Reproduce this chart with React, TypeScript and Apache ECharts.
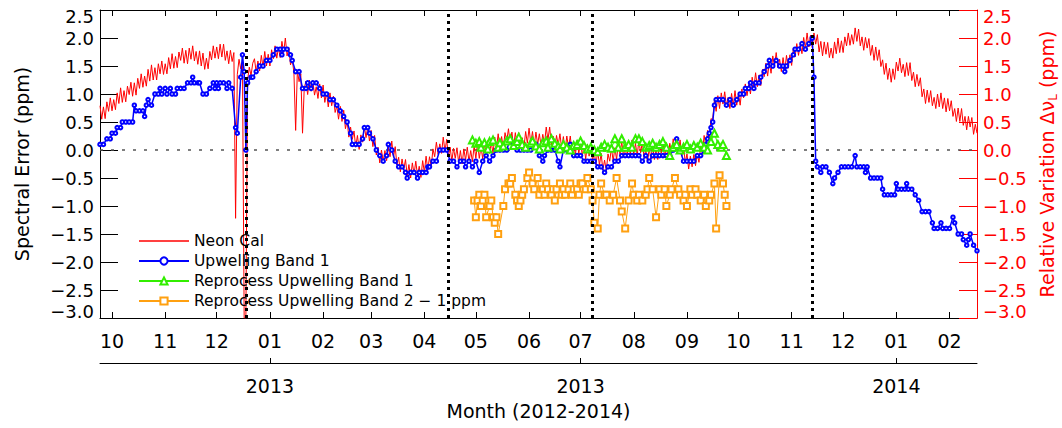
import { useEffect, useRef } from 'react';
import * as echarts from 'echarts';

const FONT = 'DejaVu Sans';
const DAY = 86400000;

// Time range of the plot and its tick positions
const startDate = '2012-09-24';
const endDate = '2014-02-17';
const monthTicks = [
  '2012-10-01', '2012-11-01', '2012-12-01', '2013-01-01', '2013-02-01', '2013-03-01',
  '2013-04-01', '2013-05-01', '2013-06-01', '2013-07-01', '2013-08-01', '2013-09-01',
  '2013-10-01', '2013-11-01', '2013-12-01', '2014-01-01', '2014-02-01',
];
const monthLabels = ['10', '11', '12', '01', '02', '03', '04', '05', '06', '07', '08', '09', '10', '11', '12', '01', '02'];
const yearTicks = ['2013-01-01', '2013-07-01', '2014-01-01'];
const yearLabels = ['2013', '2013', '2014'];
const eventDates = ['2012-12-18', '2013-04-15', '2013-07-08', '2013-11-13'];

// Neon Cal: one value per day from startDate (ppm)
const neonCalStepDays = 1;
const neonCal = [
  0.79, 0.55, 0.77, 0.56, 0.86, 0.69, 0.93, 0.70, 0.90, 0.72,
  1.02, 0.83, 1.11, 0.85, 1.06, 0.86, 1.14, 0.99, 1.21, 0.96,
  1.20, 0.98, 1.28, 1.10, 1.36, 1.12, 1.32, 1.14, 1.44, 1.23,
  1.52, 1.25, 1.47, 1.25, 1.54, 1.36, 1.59, 1.35, 1.54, 1.36,
  1.65, 1.45, 1.72, 1.46, 1.67, 1.47, 1.75, 1.60, 1.82, 1.55,
  1.78, 1.54, 1.82, 1.62, 1.86, 1.59, 1.76, 1.53, 1.77, 1.50,
  1.73, 1.44, 1.64, 1.45, 1.76, 1.61, 1.86, 1.64, 1.84, 1.63,
  1.89, 1.66, 1.89, 1.60, 1.77, 1.54, 1.78, 1.58, 1.74, -1.22,
  1.35, 1.62, 1.45, 1.58, -3.0, -3.0, 1.25, 1.48, 1.33, 1.55,
  1.63, 1.39, 1.59, 1.41, 1.69, 1.48, 1.76, 1.50, 1.71, 1.50,
  1.79, 1.63, 1.86, 1.64, 1.83, 1.65, 1.94, 1.74, 2.00, 1.68,
  1.83, 1.52, 1.62, 1.38, 0.35, 1.42, 1.22, 1.36, 0.30, 1.10,
  1.23, 0.99, 1.25, 1.05, 1.24, 0.98, 1.13, 0.92, 1.18, 0.93,
  1.16, 0.85, 1.03, 0.77, 1.02, 0.79, 0.96, 0.67, 0.79, 0.55,
  0.78, 0.51, 0.71, 0.38, 0.52, 0.23, 0.41, 0.19, 0.34, 0.05,
  0.26, 0.01, 0.27, 0.14, 0.43, 0.22, 0.41, 0.16, 0.35, 0.06,
  0.26, -0.09, 0.05, -0.23, 0.00, -0.21, -0.01, -0.19, 0.06, -0.12,
  0.16, -0.13, 0.06, -0.27, -0.13, -0.39, -0.16, -0.35, -0.17, -0.46,
  -0.26, -0.50, -0.23, -0.43, -0.20, -0.46, -0.29, -0.49, -0.19, -0.40,
  -0.11, -0.36, -0.12, -0.30, 0.02, -0.12, 0.14, -0.08, 0.11, -0.06,
  0.23, -0.02, 0.19, -0.12, 0.05, -0.20, 0.03, -0.15, 0.04, -0.23,
  -0.01, -0.25, 0.02, -0.18, 0.05, -0.21, -0.01, -0.21, 0.08, -0.15,
  0.13, -0.15, 0.06, -0.16, 0.12, -0.06, 0.17, -0.06, 0.13, -0.06,
  0.23, 0.03, 0.29, 0.03, 0.24, 0.03, 0.31, 0.16, 0.38, 0.11,
  0.32, 0.06, 0.31, 0.09, 0.31, 0.05, 0.22, 0.04, 0.33, 0.12,
  0.39, 0.12, 0.33, 0.07, 0.32, 0.10, 0.29, 0.07, 0.28, 0.11,
  0.41, 0.18, 0.41, 0.09, 0.25, 0.01, 0.26, 0.09, 0.29, 0.02,
  0.24, -0.01, 0.25, 0.04, 0.25, -0.03, 0.12, -0.09, 0.17, -0.07,
  0.18, -0.11, 0.08, -0.16, 0.10, -0.11, 0.08, -0.19, -0.04, -0.26,
  -0.02, -0.27, -0.06, -0.36, -0.18, -0.37, -0.07, -0.20, 0.04, -0.20,
  0.04, -0.17, 0.12, -0.08, 0.15, -0.11, 0.06, -0.14, 0.13, -0.09,
  0.18, -0.09, 0.12, -0.10, 0.17, -0.05, 0.14, -0.14, 0.01, -0.22,
  0.03, -0.17, 0.09, -0.17, 0.04, -0.17, 0.11, -0.06, 0.14, -0.13,
  0.09, -0.15, 0.12, -0.06, 0.20, -0.03, 0.16, -0.06, 0.18, -0.11,
  0.09, -0.23, -0.07, -0.34, -0.11, -0.30, -0.08, -0.28, -0.06, -0.22,
  0.08, -0.07, 0.26, 0.07, 0.35, 0.21, 0.56, 0.54, 0.89, 0.69,
  0.97, 0.74, 1.02, 0.82, 1.04, 0.78, 0.94, 0.74, 1.01, 0.79,
  1.06, 0.80, 1.01, 0.80, 1.09, 0.93, 1.18, 0.97, 1.17, 1.00,
  1.30, 1.11, 1.38, 1.13, 1.34, 1.15, 1.44, 1.31, 1.55, 1.32,
  1.57, 1.37, 1.68, 1.50, 1.74, 1.47, 1.62, 1.40, 1.65, 1.42,
  1.69, 1.46, 1.70, 1.51, 1.82, 1.66, 1.90, 1.69, 1.89, 1.72,
  2.01, 1.82, 2.09, 1.84, 2.05, 1.83, 2.09, 1.89, 2.06, 1.75,
  1.94, 1.68, 1.93, 1.71, 1.92, 1.65, 1.82, 1.64, 1.93, 1.72,
  2.00, 1.74, 1.95, 1.74, 2.02, 1.86, 2.09, 1.87, 2.06, 1.89,
  2.18, 1.94, 2.16, 1.86, 2.02, 1.78, 2.01, 1.82, 1.99, 1.69,
  1.87, 1.60, 1.84, 1.60, 1.79, 1.49, 1.61, 1.35, 1.55, 1.26,
  1.46, 1.21, 1.45, 1.26, 1.57, 1.41, 1.64, 1.38, 1.53, 1.31,
  1.56, 1.33, 1.56, 1.24, 1.39, 1.13, 1.35, 1.14, 1.29, 0.95,
  1.09, 0.83, 1.07, 0.85, 1.06, 0.79, 0.94, 0.74, 1.00, 0.77,
  1.02, 0.74, 0.93, 0.68, 0.92, 0.70, 0.88, 0.60, 0.74, 0.51,
  0.75, 0.51, 0.74, 0.44, 0.60, 0.36, 0.60, 0.41, 0.58, 0.28,
  0.46, 0.30,
];

// [days after startDate, ppm]
const upwellBand1 = [
  [0, 0.1], [2, 0.1], [4, 0.2], [6, 0.2], [7, 0.3], [9, 0.3], [10, 0.4], [12, 0.4], [13, 0.5], [15, 0.5],
  [17, 0.5], [19, 0.5], [20, 0.8], [21, 0.7], [23, 0.7], [25, 0.7], [26, 0.6], [27, 0.8], [28, 0.9], [30, 0.8],
  [32, 1.0], [34, 1.0], [35, 1.1], [36, 1.0], [38, 1.1], [39, 1.0], [41, 1.1], [42, 1.0], [44, 1.0], [45, 1.1],
  [47, 1.1], [49, 1.1], [51, 1.2], [53, 1.2], [54, 1.3], [55, 1.2], [57, 1.2], [58, 1.2], [60, 1.0], [62, 1.0],
  [64, 1.1], [66, 1.2], [67, 1.1], [68, 1.2], [69, 1.1], [70, 1.2], [72, 1.2], [74, 1.1], [75, 1.2], [77, 1.1],
  [79, 0.4], [80, 0.3], [82, 1.3], [83, 1.7], [84, 1.4], [85, 0.0], [86, 1.2], [88, 1.3], [89, 1.3], [91, 1.4],
  [93, 1.5], [95, 1.5], [97, 1.6], [99, 1.6], [101, 1.7], [103, 1.8], [105, 1.8], [106, 1.7], [107, 1.8], [109, 1.8],
  [111, 1.7], [112, 1.6], [114, 1.4], [116, 1.4], [118, 1.1], [120, 1.1], [121, 1.2], [123, 1.1], [124, 1.2], [126, 1.2],
  [128, 1.1], [130, 1.0], [132, 1.0], [134, 0.9], [136, 0.9], [138, 0.8], [140, 0.7], [142, 0.6], [144, 0.5], [146, 0.3],
  [147, 0.1], [149, 0.1], [151, 0.1], [153, 0.2], [154, 0.4], [156, 0.4], [157, 0.3], [159, 0.2], [161, 0.0], [163, -0.1],
  [165, -0.2], [167, -0.1], [168, 0.1], [170, 0.0], [172, -0.2], [174, -0.3], [176, -0.3], [178, -0.4], [179, -0.5], [181, -0.4],
  [183, -0.4], [185, -0.5], [186, -0.4], [188, -0.4], [190, -0.4], [191, -0.3], [192, -0.3], [194, -0.2], [196, -0.2], [198, 0.0],
  [200, 0.0], [202, 0.0], [204, -0.2], [206, -0.2], [208, -0.3], [210, -0.2], [212, -0.2], [213, -0.3], [215, -0.2], [217, -0.3],
  [219, -0.2], [221, -0.4], [223, -0.2], [225, -0.1], [227, -0.2], [229, -0.1], [231, 0.0], [233, 0.0], [235, 0.0], [237, 0.0],
  [239, 0.2], [241, 0.1], [243, 0.0], [245, 0.0], [247, 0.0], [249, 0.0], [251, 0.0], [252, 0.1], [254, 0.1], [256, -0.1],
  [258, -0.2], [259, -0.1], [261, 0.0], [263, 0.0], [265, 0.0], [267, -0.2], [268, -0.3], [270, 0.0], [272, 0.0], [274, 0.1],
  [276, -0.1], [278, -0.1], [280, -0.1], [282, -0.2], [284, -0.2], [286, -0.2], [288, -0.2], [290, -0.3], [292, -0.3], [294, -0.4],
  [296, -0.3], [298, -0.3], [300, -0.2], [302, -0.2], [304, -0.1], [306, -0.1], [308, -0.1], [310, -0.1], [312, -0.1], [314, -0.1],
  [316, -0.2], [318, -0.1], [320, -0.2], [322, -0.1], [324, -0.1], [326, -0.1], [328, -0.1], [330, -0.1], [332, -0.1], [334, 0.0],
  [336, 0.2], [338, 0.0], [340, -0.2], [342, -0.2], [344, -0.2], [346, -0.2], [348, -0.1], [350, -0.1], [352, 0.0], [353, 0.1],
  [354, 0.2], [355, 0.3], [356, 0.4], [357, 0.5], [358, 0.8], [359, 0.9], [361, 0.9], [363, 0.9], [365, 0.8], [367, 0.9],
  [369, 0.8], [371, 0.9], [373, 1.0], [375, 1.0], [376, 1.1], [378, 1.1], [379, 1.2], [381, 1.1], [382, 1.2], [384, 1.2],
  [385, 1.3], [387, 1.4], [389, 1.5], [390, 1.6], [392, 1.5], [394, 1.6], [396, 1.5], [398, 1.5], [399, 1.4], [400, 1.5],
  [402, 1.6], [404, 1.7], [405, 1.8], [407, 1.8], [409, 1.9], [411, 1.8], [413, 1.9], [415, 2.0], [416, 1.3], [417, -0.2],
  [418, -0.3], [420, -0.4], [421, -0.3], [423, -0.3], [425, -0.4], [427, -0.6], [428, -0.5], [430, -0.4], [432, -0.3], [434, -0.3],
  [436, -0.3], [438, -0.3], [440, -0.1], [441, -0.3], [443, -0.3], [445, -0.3], [446, -0.4], [447, -0.3], [449, -0.5], [451, -0.5],
  [453, -0.5], [455, -0.5], [456, -0.7], [457, -0.8], [459, -0.8], [461, -0.8], [463, -0.8], [464, -0.6], [465, -0.7], [467, -0.7],
  [469, -0.7], [470, -0.6], [471, -0.7], [473, -0.7], [475, -0.8], [477, -0.9], [479, -1.1], [481, -1.1], [483, -1.1], [485, -1.3],
  [486, -1.4], [488, -1.4], [490, -1.3], [491, -1.4], [493, -1.4], [495, -1.4], [497, -1.2], [498, -1.3], [500, -1.5], [502, -1.5],
  [503, -1.6], [505, -1.7], [506, -1.6], [507, -1.5], [509, -1.7], [511, -1.8],
];

const reprocBand1 = [
  [217, 0.18], [219, 0.12], [221, 0.15], [222, 0.05], [224, 0.13], [226, 0.02], [227, 0.15], [229, 0.18], [232, 0.05], [233, 0.13],
  [235, 0.07], [237, 0.16], [239, 0.2], [241, 0.08], [243, 0.15], [244, 0.23], [246, 0.1], [248, 0.05], [251, 0.12], [252, 0.16],
  [254, 0.07], [256, 0.02], [258, 0.13], [260, 0.16], [261, 0.05], [263, 0.2], [265, 0.12], [267, 0.07], [268, 0.02], [270, 0.1],
  [272, 0.05], [274, 0.0], [276, 0.08], [278, 0.1], [280, 0.16], [282, 0.08], [284, 0.02], [286, 0.05], [288, 0.0], [290, -0.03],
  [292, 0.05], [294, 0.1], [296, 0.05], [298, 0.03], [300, 0.2], [302, 0.05], [304, 0.2], [306, 0.05], [308, 0.1], [310, 0.05],
  [312, 0.2], [314, 0.2], [316, 0.15], [318, 0.05], [320, 0.08], [322, 0.12], [324, 0.05], [326, 0.1], [328, 0.15], [330, 0.05],
  [332, -0.1], [334, 0.05], [336, 0.1], [338, 0.0], [340, 0.05], [342, 0.1], [344, 0.02], [346, 0.08], [348, 0.05], [350, 0.12],
  [352, 0.05], [354, 0.0], [356, 0.15], [358, 0.3], [360, 0.1], [362, 0.05], [363, 0.1], [365, -0.1],
];

const reprocBand2Minus1 = [
  [218, -0.9], [219, -1.2], [220, -0.9], [221, -0.8], [222, -1.0], [223, -0.9], [224, -0.8], [225, -1.2], [227, -1.0], [228, -0.9],
  [229, -1.2], [230, -1.3], [231, -1.2], [232, -1.5], [235, -1.0], [236, -0.7], [238, -0.6], [239, -0.6], [240, -0.5], [242, -0.8],
  [243, -0.9], [244, -1.0], [245, -0.9], [246, -0.8], [247, -0.7], [249, -0.5], [250, -0.4], [252, -0.6], [253, -0.7], [255, -0.5],
  [256, -0.8], [258, -0.7], [259, -0.8], [260, -0.6], [261, -0.7], [263, -0.8], [264, -0.7], [265, -0.9], [266, -0.7], [268, -0.6],
  [269, -0.8], [270, -0.7], [271, -0.8], [273, -0.7], [274, -0.6], [275, -0.8], [276, -0.7], [278, -0.7], [279, -0.8], [280, -0.6],
  [281, -0.6], [283, -0.7], [284, -0.5], [286, -0.7], [287, -0.9], [288, -1.3], [290, -1.4], [291, -0.8], [292, -0.6], [294, -0.8],
  [295, -0.8], [297, -0.9], [299, -0.8], [301, -0.5], [303, -0.9], [304, -1.1], [306, -1.4], [308, -0.9], [310, -0.6], [311, -0.8],
  [313, -0.9], [314, -0.8], [316, -0.9], [318, -0.8], [319, -0.7], [320, -0.5], [322, -0.7], [324, -1.2], [326, -0.7], [327, -0.8],
  [329, -0.7], [330, -1.0], [332, -0.8], [333, -0.7], [335, -0.5], [337, -0.7], [338, -0.8], [340, -0.9], [341, -0.8], [342, -1.0],
  [344, -0.7], [345, -0.8], [347, -0.7], [348, -0.8], [350, -0.9], [352, -0.8], [353, -1.0], [355, -0.9], [356, -0.8], [358, -0.6],
  [359, -1.4], [361, -0.45], [363, -0.6], [364, -0.8], [365, -1.0],
];

const yTickMin = -3.0;
const yTickMax = 2.5;
const yTickStep = 0.5;

function ts(s: string): number {
  const [y, m, d] = s.split('-').map(Number);
  return Date.UTC(y, m - 1, d);
}

const t0 = ts(startDate);
const t1 = ts(endDate);
const monthValues = monthTicks.map(ts);
const yearValues = yearTicks.map(ts);
const fromDays = (pts: number[][]) => pts.map(([d, v]) => [t0 + d * DAY, v]);

const fmtY = (v: number) => (v < 0 ? '\u2212' : '') + Math.abs(v).toFixed(1);

function buildOption() {
  // x positions are UTC timestamps on a plain numeric axis
  const baseX = {
    type: 'value',
    min: t0,
    max: t1,
    splitLine: { show: false },
  };
  const yCommon = (color: string) => ({
    type: 'value',
    min: yTickMin,
    max: yTickMax,
    interval: yTickStep,
    splitLine: { show: false },
    axisLine: { show: true, lineStyle: { color, width: 1 } },
    axisTick: { show: true, inside: true, length: 18, lineStyle: { color, width: 1 } },
    axisLabel: {
      show: true,
      color,
      fontSize: 18,
      lineHeight: 13,
      fontFamily: FONT,
      margin: 6,
      formatter: fmtY,
      showMinLabel: true,
      showMaxLabel: true,
      hideOverlap: false,
      verticalAlignMinLabel: 'bottom',
      verticalAlignMaxLabel: 'top',
    },
  });

  return {
    animation: false,
    backgroundColor: '#ffffff',
    textStyle: { fontFamily: FONT },
    grid: { left: 100, right: 85, top: 10, bottom: 110, containLabel: false, outerBoundsMode: 'none' },
    legend: {
      orient: 'vertical',
      left: 133,
      top: 228,
      itemWidth: 50,
      itemHeight: 9,
      itemGap: 4,
      selectedMode: false,
      textStyle: { fontSize: 15.5, color: '#000', fontFamily: FONT },
      data: [
        { name: 'Neon Cal', icon: 'path://M0,0H50V1.6H0Z' },
        'Upwelling Band 1',
        'Reprocess Upwelling Band 1',
        'Reprocess Upwelling Band 2 \u2212 1 ppm',
      ],
    },
    xAxis: [
      {
        ...baseX,
        position: 'bottom',
        axisLine: { show: true, onZero: false, lineStyle: { color: '#000', width: 1 } },
        axisTick: { show: true, inside: true, length: 6, customValues: monthValues, lineStyle: { color: '#000' } },
        axisLabel: {
          show: true,
          customValues: monthValues,
          formatter: (v: number) => {
            const i = monthValues.indexOf(v);
            return i >= 0 ? monthLabels[i] : '';
          },
          color: '#000',
          fontSize: 19,
          fontFamily: FONT,
          margin: 13,
          hideOverlap: false,
        },
      },
      {
        ...baseX,
        position: 'top',
        axisLine: { show: true, onZero: false, lineStyle: { color: '#000', width: 1 } },
        axisTick: { show: true, inside: true, length: 6, customValues: monthValues, lineStyle: { color: '#000' } },
        axisLabel: { show: false },
      },
      {
        ...baseX,
        position: 'bottom',
        offset: 45,
        name: 'Month (2012-2014)',
        nameLocation: 'middle',
        nameGap: 38,
        nameTextStyle: { fontSize: 19, color: '#000', fontFamily: FONT },
        axisLine: { show: true, onZero: false, lineStyle: { color: '#000', width: 1 } },
        axisTick: { show: true, inside: true, length: 5, customValues: yearValues, lineStyle: { color: '#000' } },
        axisLabel: {
          show: true,
          customValues: yearValues,
          formatter: (v: number) => {
            const i = yearValues.indexOf(v);
            return i >= 0 ? yearLabels[i] : '';
          },
          color: '#000',
          fontSize: 19,
          fontFamily: FONT,
          margin: 13,
          hideOverlap: false,
        },
      },
    ],
    yAxis: [
      {
        ...yCommon('#000'),
        position: 'left',
        name: 'Spectral Error (ppm)',
        nameLocation: 'middle',
        nameRotate: 90,
        nameGap: 69,
        nameTextStyle: { fontSize: 19, color: '#000', fontFamily: FONT },
      },
      {
        ...yCommon('#ff0000'),
        position: 'right',
        name: '{t|Relative Variation \u0394\u03bd}{s|L}{t| (ppm)}',
        nameLocation: 'middle',
        nameRotate: 90,
        nameGap: 52,
        nameTextStyle: {
          fontSize: 19,
          color: '#ff0000',
          fontFamily: FONT,
          rich: {
            t: { fontSize: 19, color: '#ff0000', fontFamily: FONT },
            s: { fontSize: 12, color: '#ff0000', fontFamily: FONT, padding: [12, 0, 0, 0] },
          },
        },
      },
    ],
    series: [
      {
        name: 'Neon Cal',
        type: 'line',
        xAxisIndex: 0,
        yAxisIndex: 0,
        data: neonCal.map((v, i) => [t0 + i * neonCalStepDays * DAY, v]),
        symbol: 'none',
        lineStyle: { color: '#ff0000', width: 1 },
        itemStyle: { color: '#ff0000' },
        markLine: {
          z: 1,
          silent: true,
          symbol: 'none',
          label: { show: false },
          lineStyle: { color: '#555', width: 1.5, type: [3, 8] },
          data: [{ yAxis: 0 }],
        },
      },
      {
        name: 'Upwelling Band 1',
        type: 'line',
        xAxisIndex: 0,
        yAxisIndex: 0,
        data: fromDays(upwellBand1),
        symbol: 'emptyCircle',
        symbolSize: 3.5,
        lineStyle: { color: '#0000ff', width: 1.5 },
        itemStyle: { color: '#0000ff', borderWidth: 1.5 },
        markLine: {
          z: 6,
          silent: true,
          symbol: 'none',
          label: { show: false },
          lineStyle: { color: '#000', width: 3, type: [3, 4] },
          data: eventDates.map((d) => ({ xAxis: ts(d) })),
        },
      },
      {
        name: 'Reprocess Upwelling Band 1',
        type: 'line',
        xAxisIndex: 0,
        yAxisIndex: 0,
        data: fromDays(reprocBand1),
        symbol: 'emptyTriangle',
        symbolSize: 7,
        lineStyle: { color: '#33ee00', width: 1 },
        itemStyle: { color: '#33ee00', borderWidth: 1 },
      },
      {
        name: 'Reprocess Upwelling Band 2 \u2212 1 ppm',
        type: 'line',
        xAxisIndex: 0,
        yAxisIndex: 0,
        data: fromDays(reprocBand2Minus1),
        symbol: 'emptyRect',
        symbolSize: 6,
        lineStyle: { color: '#ffa010', width: 1 },
        itemStyle: { color: '#ffa010', borderWidth: 1 },
      },
    ],
  };
}

export default function App() {
  const ref = useRef<HTMLDivElement>(null);
  useEffect(() => {
    if (!ref.current) return;
    const chart = echarts.init(ref.current, null, { renderer: 'svg' });
    chart.setOption(buildOption() as any);
    return () => chart.dispose();
  }, []);
  return (
    <div
      ref={ref}
      style={{ position: 'fixed', left: 0, top: 0, width: 1062, height: 428, background: '#fff' }}
    />
  );
}
